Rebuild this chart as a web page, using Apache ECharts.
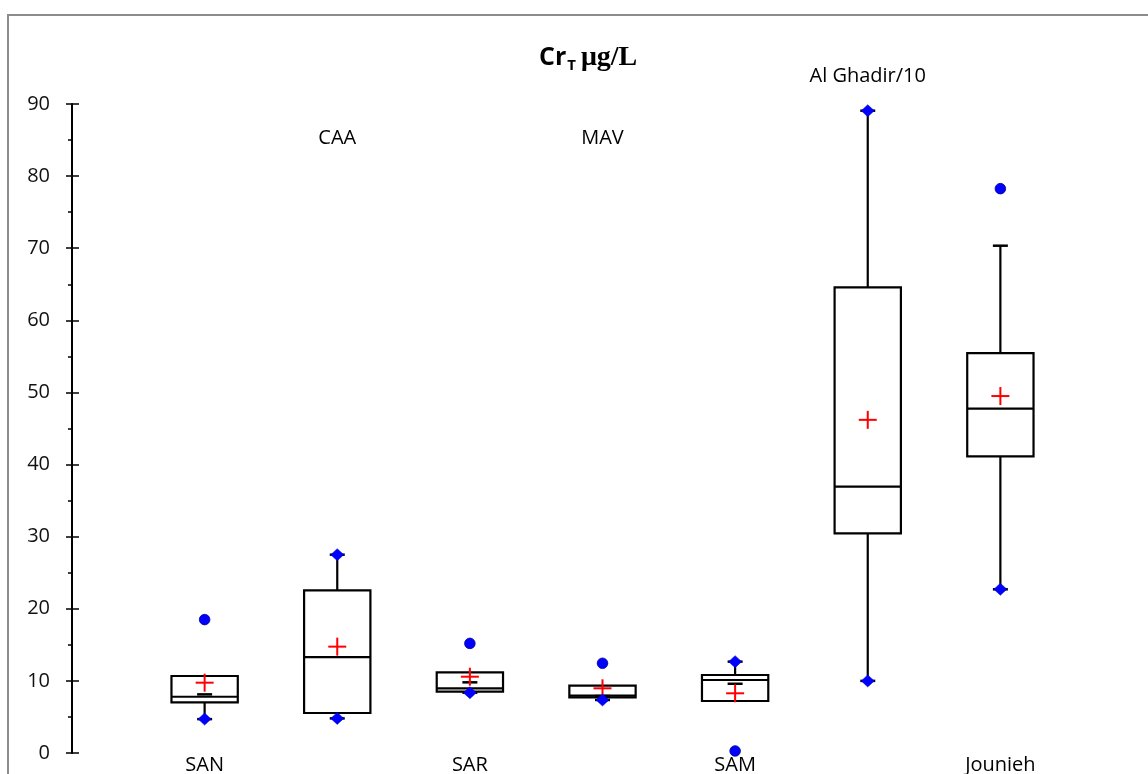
<!DOCTYPE html>
<html><head><meta charset="utf-8">
<script src="https://cdn.jsdelivr.net/npm/echarts@6/dist/echarts.min.js"></script>
<style>html,body{margin:0;padding:0;background:#fff}#c{width:1148px;height:774px}</style>
</head><body><div id="c"></div>
<script>
// ---- data ----
const categories  = ['SAN', 'CAA', 'SAR', 'MAV', 'SAM', 'Al Ghadir/10', 'Jounieh'];
const whiskerLow  = [4.7, 4.8, 8.36, 7.35, 9.6, 10.0, 22.7];
const q1          = [7.03, 5.55, 8.5, 7.72, 7.21, 30.46, 41.14];
const median      = [7.8, 13.3, 8.97, 7.95, 10.12, 36.93, 47.75];
const q3          = [10.68, 22.56, 11.19, 9.34, 10.82, 64.58, 55.45];
const whiskerHigh = [8.13, 27.5, 9.8, 7.9, 12.67, 89.07, 70.35];
const mean        = [9.75, 14.75, 10.58, 8.97, 8.28, 46.2, 49.5];
const minimum     = [4.7, 4.8, 8.36, 7.35, 0.28, 10.0, 22.7];
const maximum     = [18.5, 27.5, 15.2, 12.44, 12.67, 89.07, 78.26];
const yMin = 0, yMax = 90, yStep = 10;

const FONT = 'Open Sans';
const chart = echarts.init(document.getElementById('c'), null, {renderer: 'canvas'});

const data = categories.map((c, i) => [i + 1, whiskerLow[i], q1[i], median[i], q3[i], whiskerHigh[i], mean[i], minimum[i], maximum[i]]);

function renderItem(params, api) {
  const i = params.dataIndex;
  const x = api.value(0);
  const band = api.size([1, 0])[0];
  const half = band * 0.25;
  const capHalf = 7.5;
  const Y = k => api.coord([x, api.value(k)])[1];
  const cx = api.coord([x, 0])[0];
  const yLo = Y(1), yQ1 = Y(2), yMed = Y(3), yQ3 = Y(4), yHi = Y(5), yMean = Y(6), yMinV = Y(7), yMaxV = Y(8);
  const blk = {stroke: '#000', lineWidth: 2.2};
  const ch = [];
  if (api.value(5) > api.value(4)) ch.push({type: 'line', shape: {x1: cx, y1: yQ3, x2: cx, y2: yHi}, style: blk});
  if (api.value(1) < api.value(2)) ch.push({type: 'line', shape: {x1: cx, y1: yQ1, x2: cx, y2: yLo}, style: blk});
  ch.push({type: 'rect', shape: {x: cx - half, y: yQ3, width: 2 * half, height: yQ1 - yQ3}, style: {fill: 'none', stroke: '#000', lineWidth: 2.2}});
  ch.push({type: 'line', shape: {x1: cx - half, y1: yMed, x2: cx + half, y2: yMed}, style: blk});
  ch.push({type: 'line', shape: {x1: cx - capHalf, y1: yHi, x2: cx + capHalf, y2: yHi}, style: {stroke: '#000', lineWidth: 2.5}});
  ch.push({type: 'line', shape: {x1: cx - capHalf, y1: yLo, x2: cx + capHalf, y2: yLo}, style: {stroke: '#000', lineWidth: 2.5}});
  // mean cross
  const m = 9;
  ch.push({type: 'line', shape: {x1: cx - m, y1: yMean, x2: cx + m, y2: yMean}, style: {stroke: '#ff0000', lineWidth: 2}});
  ch.push({type: 'line', shape: {x1: cx, y1: yMean - m, x2: cx, y2: yMean + m}, style: {stroke: '#ff0000', lineWidth: 2}});
  // min / max markers
  const diamond = (y) => ({type: 'polygon', shape: {points: [[cx, y - 6], [cx + 6.5, y], [cx, y + 6], [cx - 6.5, y]]}, style: {fill: '#0000ff', stroke: '#0000cc', lineWidth: 0.5}});
  const dot = (y) => ({type: 'circle', shape: {cx: cx, cy: y, r: 5.3}, style: {fill: '#0000ff', stroke: '#00008b', lineWidth: 0.8}});
  ch.push(api.value(7) < api.value(1) ? dot(yMinV) : diamond(yLo));
  ch.push(api.value(8) > api.value(5) ? dot(yMaxV) : diamond(yHi));
  // top labels for even positions
  if (i % 2 === 1) {
    const yTop = api.coord([x, yMax])[1];
    const above = api.value(8) > yMax - 5;
    ch.push({type: 'text', style: {text: categories[i], x: cx, y: above ? yTop - 28 : yTop + 34, align: 'center', verticalAlign: 'middle', fontFamily: FONT, fontSize: 20, fill: '#000'}});
  }
  return {type: 'group', children: ch};
}

const gridLeft = 72, gridRight = 15;
const gridWidth = 1148 - gridLeft - gridRight;

chart.setOption({
  animation: false,
  backgroundColor: '#fff',
  title: {
    text: '{a|Cr}{b|T} {c|μg/L}',
    left: 534, top: 36,
    textStyle: {
      rich: {
        a: {fontFamily: FONT, fontWeight: 'bold', fontSize: 25, color: '#000', lineHeight: 34, verticalAlign: 'middle'},
        b: {fontFamily: FONT, fontWeight: 'bold', fontSize: 15, color: '#000', lineHeight: 34, verticalAlign: 'bottom', padding: [0, 0, 2, 1]},
        c: {fontFamily: 'Liberation Serif', fontWeight: 'bold', fontSize: 28, color: '#000', lineHeight: 34, verticalAlign: 'middle'}
      }
    }
  },
  graphic: [{type: 'rect', z: -10, silent: true, shape: {x: 8, y: 15, width: 1200, height: 800}, style: {fill: 'none', stroke: '#8c8c8c', lineWidth: 2}}],
  grid: {left: gridLeft, right: gridRight, top: 104, bottom: 21, containLabel: false, outerBoundsMode: 'none'},
  xAxis: {
    type: 'value', min: 0, max: categories.length + 1, interval: 1,
    axisLine: {show: false}, axisTick: {show: false}, splitLine: {show: false},
    axisLabel: {
      margin: 2, fontFamily: FONT, fontSize: 20, color: '#000',
      formatter: v => (v >= 1 && v <= categories.length && v % 2 === 1) ? categories[v - 1] : ''
    }
  },
  yAxis: [{
    type: 'value', min: yMin, max: yMax, interval: yStep, position: 'left',
    axisLine: {show: true, lineStyle: {color: '#000', width: 2}},
    axisTick: {show: true, length: 6, lineStyle: {color: '#000', width: 1.5}},
    minorTick: {show: true, splitNumber: 2, length: 4, lineStyle: {color: '#000', width: 1.5}},
    splitLine: {show: false}, minorSplitLine: {show: false},
    axisLabel: {margin: 22, fontFamily: FONT, fontSize: 20, color: '#111'}
  }, {
    type: 'value', min: yMin, max: yMax, interval: yStep, position: 'right', offset: -gridWidth,
    axisLine: {show: false},
    axisTick: {show: true, length: 7, lineStyle: {color: '#000', width: 1.5}},
    axisLabel: {show: false}, splitLine: {show: false}
  }],
  series: [{
    type: 'custom', renderItem: renderItem, data: data, clip: false,
    encode: {x: 0, y: [1, 2, 3, 4, 5, 6, 7, 8]}
  }]
});
</script>
</body></html>
